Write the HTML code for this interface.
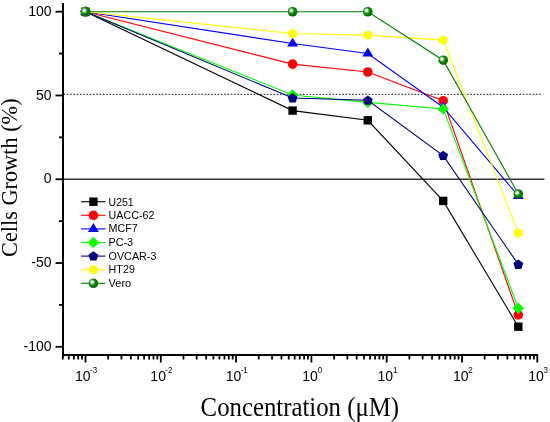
<!DOCTYPE html><html><head><meta charset="utf-8"><style>html,body{margin:0;padding:0;background:#fff;}svg{display:block;will-change:transform;}text{font-family:"Liberation Sans",sans-serif;}.serif{font-family:"Liberation Serif",serif;}</style></head><body>
<svg width="550" height="422" viewBox="0 0 550 422">
<defs><radialGradient id="sph" cx="0.4" cy="0.4" r="0.68" fx="0.355" fy="0.375"><stop offset="0" stop-color="#ffffff"/><stop offset="0.22" stop-color="#c8e0c8"/><stop offset="0.45" stop-color="#0a8a0a"/><stop offset="1" stop-color="#006000"/></radialGradient></defs>
<line x1="63.5" y1="94.4" x2="540.6" y2="94.4" stroke="#444" stroke-width="1.2" stroke-dasharray="1.6 1.68"/>
<line x1="64" y1="179.2" x2="544.5" y2="179.2" stroke="#333" stroke-width="1.4"/>
<line x1="63" y1="3.0" x2="63" y2="356" stroke="#000" stroke-width="2"/>
<line x1="62" y1="355" x2="538" y2="355" stroke="#000" stroke-width="2"/>
<line x1="55.5" y1="11.70" x2="63" y2="11.70" stroke="#000" stroke-width="1.8"/>
<text x="51.5" y="15.90" font-size="14" text-anchor="end">100</text>
<line x1="55.5" y1="95.48" x2="63" y2="95.48" stroke="#000" stroke-width="1.8"/>
<text x="51.5" y="99.68" font-size="14" text-anchor="end">50</text>
<line x1="55.5" y1="179.25" x2="63" y2="179.25" stroke="#000" stroke-width="1.8"/>
<text x="51.5" y="183.45" font-size="14" text-anchor="end">0</text>
<line x1="55.5" y1="263.02" x2="63" y2="263.02" stroke="#000" stroke-width="1.8"/>
<text x="51.5" y="267.22" font-size="14" text-anchor="end">-50</text>
<line x1="55.5" y1="346.80" x2="63" y2="346.80" stroke="#000" stroke-width="1.8"/>
<text x="51.5" y="351.00" font-size="14" text-anchor="end">-100</text>
<line x1="59" y1="53.59" x2="63" y2="53.59" stroke="#000" stroke-width="1.8"/>
<line x1="59" y1="137.36" x2="63" y2="137.36" stroke="#000" stroke-width="1.8"/>
<line x1="59" y1="221.14" x2="63" y2="221.14" stroke="#000" stroke-width="1.8"/>
<line x1="59" y1="304.91" x2="63" y2="304.91" stroke="#000" stroke-width="1.8"/>
<line x1="85.50" y1="355" x2="85.50" y2="362.5" stroke="#000" stroke-width="1.8"/>
<text x="75.06" y="380.7" font-size="14">10</text>
<text transform="translate(90.03,372.6) scale(1,1.17)" font-size="8">-3</text>
<line x1="160.80" y1="355" x2="160.80" y2="362.5" stroke="#000" stroke-width="1.8"/>
<text x="150.36" y="380.7" font-size="14">10</text>
<text transform="translate(165.33,372.6) scale(1,1.17)" font-size="8">-2</text>
<line x1="236.10" y1="355" x2="236.10" y2="362.5" stroke="#000" stroke-width="1.8"/>
<text x="225.66" y="380.7" font-size="14">10</text>
<text transform="translate(240.63,372.6) scale(1,1.17)" font-size="8">-1</text>
<line x1="311.40" y1="355" x2="311.40" y2="362.5" stroke="#000" stroke-width="1.8"/>
<text x="302.29" y="380.7" font-size="14">10</text>
<text transform="translate(317.66,372.6) scale(1,1.17)" font-size="8">0</text>
<line x1="386.70" y1="355" x2="386.70" y2="362.5" stroke="#000" stroke-width="1.8"/>
<text x="377.59" y="380.7" font-size="14">10</text>
<text transform="translate(392.96,372.6) scale(1,1.17)" font-size="8">1</text>
<line x1="462.00" y1="355" x2="462.00" y2="362.5" stroke="#000" stroke-width="1.8"/>
<text x="452.89" y="380.7" font-size="14">10</text>
<text transform="translate(468.26,372.6) scale(1,1.17)" font-size="8">2</text>
<line x1="537.30" y1="355" x2="537.30" y2="362.5" stroke="#000" stroke-width="1.8"/>
<text x="528.19" y="380.7" font-size="14">10</text>
<text transform="translate(543.56,372.6) scale(1,1.17)" font-size="8">3</text>
<line x1="62.83" y1="355" x2="62.83" y2="359.5" stroke="#000" stroke-width="1.8"/>
<line x1="68.79" y1="355" x2="68.79" y2="359.5" stroke="#000" stroke-width="1.8"/>
<line x1="73.84" y1="355" x2="73.84" y2="359.5" stroke="#000" stroke-width="1.8"/>
<line x1="78.20" y1="355" x2="78.20" y2="359.5" stroke="#000" stroke-width="1.8"/>
<line x1="82.05" y1="355" x2="82.05" y2="359.5" stroke="#000" stroke-width="1.8"/>
<line x1="108.17" y1="355" x2="108.17" y2="359.5" stroke="#000" stroke-width="1.8"/>
<line x1="121.43" y1="355" x2="121.43" y2="359.5" stroke="#000" stroke-width="1.8"/>
<line x1="130.84" y1="355" x2="130.84" y2="359.5" stroke="#000" stroke-width="1.8"/>
<line x1="138.13" y1="355" x2="138.13" y2="359.5" stroke="#000" stroke-width="1.8"/>
<line x1="144.09" y1="355" x2="144.09" y2="359.5" stroke="#000" stroke-width="1.8"/>
<line x1="149.14" y1="355" x2="149.14" y2="359.5" stroke="#000" stroke-width="1.8"/>
<line x1="153.50" y1="355" x2="153.50" y2="359.5" stroke="#000" stroke-width="1.8"/>
<line x1="157.35" y1="355" x2="157.35" y2="359.5" stroke="#000" stroke-width="1.8"/>
<line x1="183.47" y1="355" x2="183.47" y2="359.5" stroke="#000" stroke-width="1.8"/>
<line x1="196.73" y1="355" x2="196.73" y2="359.5" stroke="#000" stroke-width="1.8"/>
<line x1="206.14" y1="355" x2="206.14" y2="359.5" stroke="#000" stroke-width="1.8"/>
<line x1="213.43" y1="355" x2="213.43" y2="359.5" stroke="#000" stroke-width="1.8"/>
<line x1="219.39" y1="355" x2="219.39" y2="359.5" stroke="#000" stroke-width="1.8"/>
<line x1="224.44" y1="355" x2="224.44" y2="359.5" stroke="#000" stroke-width="1.8"/>
<line x1="228.80" y1="355" x2="228.80" y2="359.5" stroke="#000" stroke-width="1.8"/>
<line x1="232.65" y1="355" x2="232.65" y2="359.5" stroke="#000" stroke-width="1.8"/>
<line x1="258.77" y1="355" x2="258.77" y2="359.5" stroke="#000" stroke-width="1.8"/>
<line x1="272.03" y1="355" x2="272.03" y2="359.5" stroke="#000" stroke-width="1.8"/>
<line x1="281.44" y1="355" x2="281.44" y2="359.5" stroke="#000" stroke-width="1.8"/>
<line x1="288.73" y1="355" x2="288.73" y2="359.5" stroke="#000" stroke-width="1.8"/>
<line x1="294.69" y1="355" x2="294.69" y2="359.5" stroke="#000" stroke-width="1.8"/>
<line x1="299.74" y1="355" x2="299.74" y2="359.5" stroke="#000" stroke-width="1.8"/>
<line x1="304.10" y1="355" x2="304.10" y2="359.5" stroke="#000" stroke-width="1.8"/>
<line x1="307.95" y1="355" x2="307.95" y2="359.5" stroke="#000" stroke-width="1.8"/>
<line x1="334.07" y1="355" x2="334.07" y2="359.5" stroke="#000" stroke-width="1.8"/>
<line x1="347.33" y1="355" x2="347.33" y2="359.5" stroke="#000" stroke-width="1.8"/>
<line x1="356.74" y1="355" x2="356.74" y2="359.5" stroke="#000" stroke-width="1.8"/>
<line x1="364.03" y1="355" x2="364.03" y2="359.5" stroke="#000" stroke-width="1.8"/>
<line x1="369.99" y1="355" x2="369.99" y2="359.5" stroke="#000" stroke-width="1.8"/>
<line x1="375.04" y1="355" x2="375.04" y2="359.5" stroke="#000" stroke-width="1.8"/>
<line x1="379.40" y1="355" x2="379.40" y2="359.5" stroke="#000" stroke-width="1.8"/>
<line x1="383.25" y1="355" x2="383.25" y2="359.5" stroke="#000" stroke-width="1.8"/>
<line x1="409.37" y1="355" x2="409.37" y2="359.5" stroke="#000" stroke-width="1.8"/>
<line x1="422.63" y1="355" x2="422.63" y2="359.5" stroke="#000" stroke-width="1.8"/>
<line x1="432.04" y1="355" x2="432.04" y2="359.5" stroke="#000" stroke-width="1.8"/>
<line x1="439.33" y1="355" x2="439.33" y2="359.5" stroke="#000" stroke-width="1.8"/>
<line x1="445.29" y1="355" x2="445.29" y2="359.5" stroke="#000" stroke-width="1.8"/>
<line x1="450.34" y1="355" x2="450.34" y2="359.5" stroke="#000" stroke-width="1.8"/>
<line x1="454.70" y1="355" x2="454.70" y2="359.5" stroke="#000" stroke-width="1.8"/>
<line x1="458.55" y1="355" x2="458.55" y2="359.5" stroke="#000" stroke-width="1.8"/>
<line x1="484.67" y1="355" x2="484.67" y2="359.5" stroke="#000" stroke-width="1.8"/>
<line x1="497.93" y1="355" x2="497.93" y2="359.5" stroke="#000" stroke-width="1.8"/>
<line x1="507.34" y1="355" x2="507.34" y2="359.5" stroke="#000" stroke-width="1.8"/>
<line x1="514.63" y1="355" x2="514.63" y2="359.5" stroke="#000" stroke-width="1.8"/>
<line x1="520.59" y1="355" x2="520.59" y2="359.5" stroke="#000" stroke-width="1.8"/>
<line x1="525.64" y1="355" x2="525.64" y2="359.5" stroke="#000" stroke-width="1.8"/>
<line x1="530.00" y1="355" x2="530.00" y2="359.5" stroke="#000" stroke-width="1.8"/>
<line x1="533.85" y1="355" x2="533.85" y2="359.5" stroke="#000" stroke-width="1.8"/>
<text class="serif" transform="translate(299.8,416) scale(1,1.1)" font-size="24.8" text-anchor="middle">Concentration (&#956;M)</text>
<text class="serif" transform="translate(17,177.7) rotate(-90)" font-size="22.3" text-anchor="middle">Cells Growth (%)</text>
<polyline points="85.50,11.75 292.60,110.60 367.80,120.30 443.20,200.90 518.30,326.70" fill="none" stroke="#000000" stroke-width="1.1"/>
<rect x="81.30" y="7.55" width="8.4" height="8.4" fill="#000000"/>
<rect x="288.40" y="106.40" width="8.4" height="8.4" fill="#000000"/>
<rect x="363.60" y="116.10" width="8.4" height="8.4" fill="#000000"/>
<rect x="439.00" y="196.70" width="8.4" height="8.4" fill="#000000"/>
<rect x="514.10" y="322.50" width="8.4" height="8.4" fill="#000000"/>
<polyline points="85.50,11.75 292.60,64.10 367.80,72.00 443.20,100.70 518.30,314.90" fill="none" stroke="#ff0000" stroke-width="1.1"/>
<circle cx="85.50" cy="11.75" r="4.8" fill="#ff0000"/>
<circle cx="292.60" cy="64.10" r="4.8" fill="#ff0000"/>
<circle cx="367.80" cy="72.00" r="4.8" fill="#ff0000"/>
<circle cx="443.20" cy="100.70" r="4.8" fill="#ff0000"/>
<circle cx="518.30" cy="314.90" r="4.8" fill="#ff0000"/>
<polyline points="85.50,11.75 292.60,43.50 367.80,53.50 443.20,107.20 518.30,195.90" fill="none" stroke="#0000ff" stroke-width="1.1"/>
<polygon points="85.50,5.75 90.95,14.75 80.05,14.75" fill="#0000ff"/>
<polygon points="292.60,37.50 298.05,46.50 287.15,46.50" fill="#0000ff"/>
<polygon points="367.80,47.50 373.25,56.50 362.35,56.50" fill="#0000ff"/>
<polygon points="443.20,101.20 448.65,110.20 437.75,110.20" fill="#0000ff"/>
<polygon points="518.30,189.90 523.75,198.90 512.85,198.90" fill="#0000ff"/>
<polyline points="85.50,11.75 292.60,95.00 367.80,102.40 443.20,108.90 518.30,308.20" fill="none" stroke="#00ff00" stroke-width="1.1"/>
<polygon points="85.50,6.05 91.20,11.75 85.50,17.45 79.80,11.75" fill="#00ff00"/>
<polygon points="292.60,89.30 298.30,95.00 292.60,100.70 286.90,95.00" fill="#00ff00"/>
<polygon points="367.80,96.70 373.50,102.40 367.80,108.10 362.10,102.40" fill="#00ff00"/>
<polygon points="443.20,103.20 448.90,108.90 443.20,114.60 437.50,108.90" fill="#00ff00"/>
<polygon points="518.30,302.50 524.00,308.20 518.30,313.90 512.60,308.20" fill="#00ff00"/>
<polyline points="85.50,11.75 292.60,98.00 367.80,100.30 443.20,155.60 518.30,264.40" fill="none" stroke="#000080" stroke-width="1.1"/>
<polygon points="85.50,6.85 90.45,10.44 88.56,16.26 82.44,16.26 80.55,10.44" fill="#000080"/>
<polygon points="292.60,93.10 297.55,96.69 295.66,102.51 289.54,102.51 287.65,96.69" fill="#000080"/>
<polygon points="367.80,95.40 372.75,98.99 370.86,104.81 364.74,104.81 362.85,98.99" fill="#000080"/>
<polygon points="443.20,150.70 448.15,154.29 446.26,160.11 440.14,160.11 438.25,154.29" fill="#000080"/>
<polygon points="518.30,259.50 523.25,263.09 521.36,268.91 515.24,268.91 513.35,263.09" fill="#000080"/>
<polyline points="85.50,11.75 292.60,33.50 367.80,35.10 443.20,40.10 518.30,233.10" fill="none" stroke="#ffff00" stroke-width="1.1"/>
<polygon points="85.50,6.80 89.79,9.28 89.79,14.22 85.50,16.70 81.21,14.22 81.21,9.27" fill="#ffff00"/>
<polygon points="292.60,28.55 296.89,31.02 296.89,35.98 292.60,38.45 288.31,35.98 288.31,31.02" fill="#ffff00"/>
<polygon points="367.80,30.15 372.09,32.62 372.09,37.58 367.80,40.05 363.51,37.58 363.51,32.62" fill="#ffff00"/>
<polygon points="443.20,35.15 447.49,37.62 447.49,42.58 443.20,45.05 438.91,42.58 438.91,37.62" fill="#ffff00"/>
<polygon points="518.30,228.15 522.59,230.62 522.59,235.57 518.30,238.05 514.01,235.57 514.01,230.62" fill="#ffff00"/>
<polyline points="85.50,11.75 292.60,11.75 367.80,11.75 443.20,60.20 518.30,194.00" fill="none" stroke="#008000" stroke-width="1.1"/>
<circle cx="85.50" cy="11.75" r="4.8" fill="url(#sph)"/>
<circle cx="292.60" cy="11.75" r="4.8" fill="url(#sph)"/>
<circle cx="367.80" cy="11.75" r="4.8" fill="url(#sph)"/>
<circle cx="443.20" cy="60.20" r="4.8" fill="url(#sph)"/>
<circle cx="518.30" cy="194.00" r="4.8" fill="url(#sph)"/>
<line x1="81" y1="201.70" x2="105.5" y2="201.70" stroke="#000000" stroke-width="1.1"/>
<rect x="89.20" y="197.50" width="8.4" height="8.4" fill="#000000"/>
<text transform="translate(108.6,206) scale(1.05,1)" font-size="10">U251</text>
<line x1="81" y1="215.30" x2="105.5" y2="215.30" stroke="#ff0000" stroke-width="1.1"/>
<circle cx="93.40" cy="215.30" r="4.8" fill="#ff0000"/>
<text transform="translate(108.6,219) scale(1.075,1)" font-size="10">UACC-62</text>
<line x1="81" y1="228.90" x2="105.5" y2="228.90" stroke="#0000ff" stroke-width="1.1"/>
<polygon points="93.40,222.90 98.85,231.90 87.95,231.90" fill="#0000ff"/>
<text transform="translate(108.6,232.4) scale(1.075,1)" font-size="10">MCF7</text>
<line x1="81" y1="242.50" x2="105.5" y2="242.50" stroke="#00ff00" stroke-width="1.1"/>
<polygon points="93.40,236.80 99.10,242.50 93.40,248.20 87.70,242.50" fill="#00ff00"/>
<text transform="translate(108.6,246) scale(1.075,1)" font-size="10">PC-3</text>
<line x1="81" y1="256.10" x2="105.5" y2="256.10" stroke="#000080" stroke-width="1.1"/>
<polygon points="93.40,251.20 98.35,254.79 96.46,260.61 90.34,260.61 88.45,254.79" fill="#000080"/>
<text transform="translate(108.6,260) scale(1.075,1)" font-size="10">OVCAR-3</text>
<line x1="81" y1="269.70" x2="105.5" y2="269.70" stroke="#ffff00" stroke-width="1.1"/>
<polygon points="93.40,264.75 97.69,267.22 97.69,272.18 93.40,274.65 89.11,272.18 89.11,267.22" fill="#ffff00"/>
<text transform="translate(108.6,273.2) scale(1.075,1)" font-size="10">HT29</text>
<line x1="81" y1="283.30" x2="105.5" y2="283.30" stroke="#008000" stroke-width="1.1"/>
<circle cx="93.40" cy="283.30" r="4.8" fill="url(#sph)"/>
<text transform="translate(108.6,287) scale(1.1,1)" font-size="10">Vero</text>
</svg></body></html>
